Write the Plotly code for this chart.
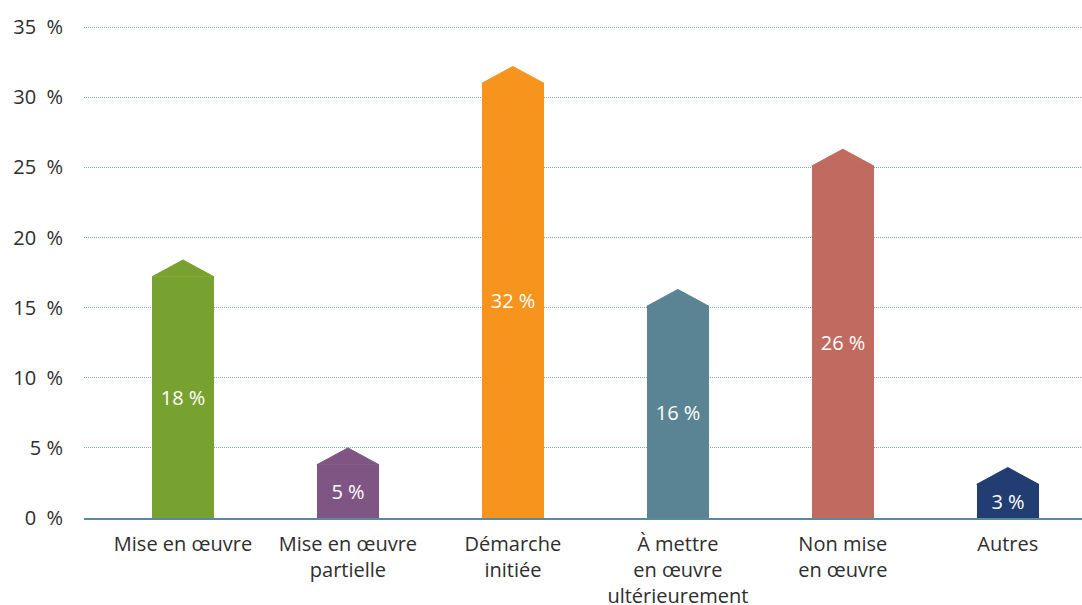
import plotly.graph_objects as go

categories = ["Mise en œuvre", "Mise en œuvre<br>partielle", "Démarche<br>initiée",
              "À mettre<br>en œuvre<br>ultérieurement", "Non mise<br>en œuvre", "Autres"]
values = [18.4, 5.0, 32.2, 16.3, 26.3, 3.6]
labels = ["18 %", "5 %", "32 %", "16 %", "26 %", "3 %"]
colors = ["#78a22f", "#7f5584", "#f7941d", "#5a8393", "#c06a60", "#223d72"]
ytick_vals = [0, 5, 10, 15, 20, 25, 30, 35]
ytick_text = ["0\u00a0\u00a0%", "5\u00a0%", "10\u00a0\u00a0%", "15\u00a0\u00a0%",
              "20\u00a0\u00a0%", "25\u00a0\u00a0%", "30\u00a0\u00a0%", "35\u00a0\u00a0%"]

peak = 1.2
width = 0.376
FONT = "Open Sans"
TXT = "#2e2e2e"

fig = go.Figure()
xs = list(range(len(categories)))
fig.add_trace(go.Bar(
    x=xs, y=[v - peak for v in values], width=width,
    marker=dict(color=colors, line=dict(width=0)),
    text=labels, textposition="inside", insidetextanchor="middle",
    textfont=dict(color="white", size=20, family=FONT),
    showlegend=False, hoverinfo="skip",
))
for i, v in enumerate(values):
    fig.add_trace(go.Scatter(
        x=[i - width / 2, i, i + width / 2, i - width / 2],
        y=[v - peak, v, v - peak, v - peak],
        fill="toself", fillcolor=colors[i], mode="lines",
        line=dict(width=1, color=colors[i]),
        showlegend=False, hoverinfo="skip",
    ))

fig.update_layout(
    width=1082, height=605,
    margin=dict(l=84, r=0, t=23, b=87),
    plot_bgcolor="white", paper_bgcolor="white",
    font=dict(family=FONT, size=20, color=TXT),
    bargap=0,
)
fig.update_xaxes(
    range=[-0.6, 5.45], tickvals=xs, ticktext=categories,
    showgrid=False, zeroline=False, showline=True, automargin=False,
    linecolor="#5b8aa0", linewidth=2, ticks="", ticklabelstandoff=7,
    tickfont=dict(size=20, color=TXT),
)
fig.update_yaxes(
    range=[0, 35.3], tickvals=ytick_vals, ticktext=ytick_text,
    showgrid=True, gridcolor="#7fa3b8", griddash="1px,1px", gridwidth=1,
    zeroline=False, showline=False, ticks="", ticklabelstandoff=20, automargin=False,
    tickfont=dict(size=20, color=TXT),
)

fig.write_html("out.html", config={"displayModeBar": False},
               post_script="document.body.style.margin='0px';")
